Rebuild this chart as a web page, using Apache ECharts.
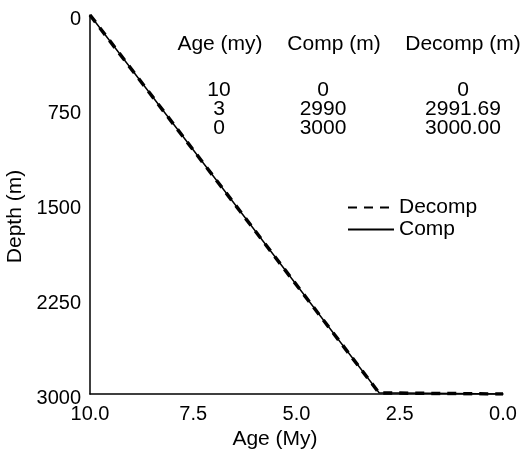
<!DOCTYPE html>
<html>
<head>
<meta charset="utf-8">
<script src="https://cdn.jsdelivr.net/npm/echarts@6/dist/echarts.min.js"></script>
<style>
  html, body { margin: 0; padding: 0; background: #fff; }
  #chart { width: 525px; height: 454px; }
</style>
</head>
<body>
<div id="chart"></div>
<script>
// Burial history: age (My) against depth (m), compacted vs decompacted
const ageMy = [10, 3, 0];
const compDepth = [0, 2990, 3000];
const decompDepth = [0, 2991.69, 3000.00];

const xTicks = [0, 2.5, 5, 7.5, 10];
const yTicks = [0, 750, 1500, 2250, 3000];

const tableHeaders = ['Age (my)', 'Comp (m)', 'Decomp (m)'];

const FONT = '"Liberation Sans", Arial, Helvetica, sans-serif';

function pairs(xs, ys) {
  return xs.map((x, i) => [x, ys[i]]);
}

function fmtDecomp(v) {
  return v === 0 ? '0' : v.toFixed(2);
}

// Table of values shown in the upper right of the plot
const colX = [219, 323, 463];
const headerX = [220, 334, 463];
const rowY = [90, 109, 128];
const headerY = 44;

function textEl(str, x, y) {
  return {
    type: 'text', x: x, y: y,
    style: { text: str, align: 'center', verticalAlign: 'middle',
             font: '21px ' + FONT, fill: '#000' }
  };
}

const tableText = [];
tableHeaders.forEach((h, i) => tableText.push(textEl(h, headerX[i], headerY)));
ageMy.forEach((a, r) => {
  const cells = [String(a), String(compDepth[r]), fmtDecomp(decompDepth[r])];
  cells.forEach((c, i) => tableText.push(textEl(c, colX[i], rowY[r])));
});

const chart = echarts.init(document.getElementById('chart'), null, { renderer: 'canvas' });

chart.setOption({
  backgroundColor: '#fff',
  animation: false,
  textStyle: { fontFamily: FONT, color: '#000' },
  grid: { left: 90, right: 22, top: 15, bottom: 60, containLabel: false, outerBoundsMode: 'none' },
  legend: {
    orient: 'vertical',
    left: 342,
    top: 192,
    itemWidth: 46,
    itemHeight: 14,
    itemGap: 1,
    itemStyle: { opacity: 0 },
    textStyle: { fontSize: 21, color: '#000', fontFamily: FONT },
    data: ['Decomp', 'Comp']
  },
  xAxis: {
    type: 'value',
    inverse: true,
    min: xTicks[0],
    max: xTicks[xTicks.length - 1],
    interval: 2.5,
    name: 'Age (My)',
    nameLocation: 'middle',
    nameGap: 35,
    nameTextStyle: { fontSize: 21, color: '#000', fontFamily: FONT, padding: [0, 43, 0, 0] },
    axisLine: { onZero: false, lineStyle: { color: '#000', width: 1.5 } },
    axisTick: { show: false },
    splitLine: { show: false },
    axisLabel: { fontSize: 20, color: '#000', fontFamily: FONT, margin: 10,
                 formatter: v => v.toFixed(1) }
  },
  yAxis: {
    type: 'value',
    inverse: true,
    min: yTicks[0],
    max: yTicks[yTicks.length - 1],
    interval: 750,
    name: 'Depth (m)',
    nameLocation: 'middle',
    nameGap: 58,
    nameTextStyle: { fontSize: 21, color: '#000', fontFamily: FONT, padding: [0, 24, 0, 0] },
    axisLine: { onZero: false, lineStyle: { color: '#000', width: 1.5 } },
    axisTick: { show: false },
    splitLine: { show: false },
    axisLabel: { fontSize: 20, color: '#000', fontFamily: FONT, margin: 9,
                 verticalAlign: 'top', lineHeight: 8, formatter: v => String(v) }
  },
  series: [
    {
      name: 'Decomp',
      type: 'line',
      data: pairs(ageMy, decompDepth),
      symbol: 'none',
      lineStyle: { color: '#000', width: 3.5, type: [9, 7] },
      itemStyle: { color: '#000' },
      z: 3
    },
    {
      name: 'Comp',
      type: 'line',
      data: pairs(ageMy, compDepth),
      symbol: 'none',
      lineStyle: { color: '#000', width: 1.5, type: 'solid' },
      itemStyle: { color: '#000' },
      z: 4
    }
  ],
  graphic: tableText
});
</script>
</body>
</html>
